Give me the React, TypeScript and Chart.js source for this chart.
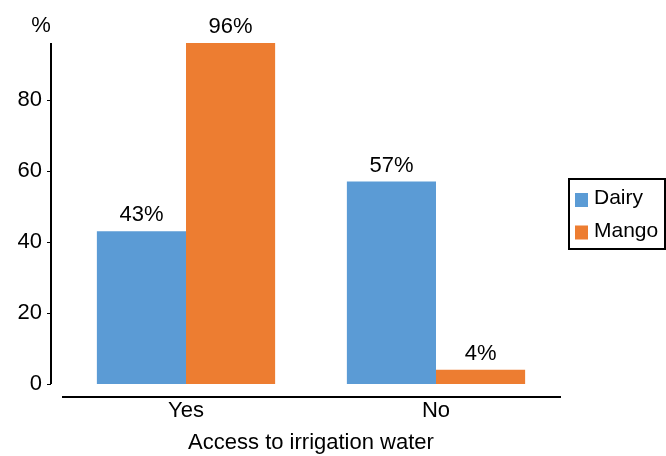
import React, { useEffect, useRef } from "react";
import { Chart, registerables } from "chart.js";

Chart.register(...registerables);

const categories = ["Yes", "No"];
const dairyValues = [43, 57];
const mangoValues = [96, 4];
const seriesNames = ["Dairy", "Mango"];
const yTicks = [0, 20, 40, 60, 80];

const FONT = "'Liberation Sans', Arial, Helvetica, sans-serif";
const FS = 22;
const LEGEND_FS = 21;
const BLUE = "#5B9BD5";
const ORANGE = "#ED7D31";

const overlay = {
  id: "overlay",
  afterDraw(chart: any) {
    const ctx = chart.ctx;
    const area = chart.chartArea;
    const y = chart.scales.y;
    ctx.save();
    ctx.strokeStyle = "#000";
    ctx.lineWidth = 2;
    const axX = area.left - 10;
    // y axis line
    ctx.beginPath();
    ctx.moveTo(axX, y.getPixelForValue(96));
    ctx.lineTo(axX, y.getPixelForValue(0));
    ctx.stroke();
    ctx.lineWidth = 1;
    yTicks.forEach((v) => {
      const py = Math.round(y.getPixelForValue(v)) + 0.5;
      ctx.beginPath();
      ctx.moveTo(axX - 4, py);
      ctx.lineTo(axX, py);
      ctx.stroke();
    });
    // x axis line
    ctx.lineWidth = 2;
    const xy = area.bottom + 13;
    ctx.beginPath();
    ctx.moveTo(area.left + 1, xy);
    ctx.lineTo(area.right, xy);
    ctx.stroke();
    // % label
    ctx.fillStyle = "#000";
    ctx.font = `${FS}px ${FONT}`;
    ctx.textAlign = "center";
    ctx.textBaseline = "alphabetic";
    ctx.fillText("%", 41, 32);
    // data labels
    chart.data.datasets.forEach((ds: any, di: number) => {
      const meta = chart.getDatasetMeta(di);
      meta.data.forEach((bar: any, i: number) => {
        ctx.fillText(ds.data[i] + "%", bar.x, bar.y - 10);
      });
    });
    // legend
    const lx = 569, ly = 179, lw = 96, lh = 70;
    ctx.lineWidth = 2;
    ctx.strokeRect(lx, ly, lw, lh);
    const colors = [BLUE, ORANGE];
    ctx.font = `${LEGEND_FS}px ${FONT}`;
    ctx.textAlign = "left";
    ctx.textBaseline = "alphabetic";
    seriesNames.forEach((name, i) => {
      const top = 193 + i * 32.5;
      ctx.fillStyle = colors[i];
      ctx.fillRect(575, top, 13, 14);
      ctx.fillStyle = "#000";
      ctx.fillText(name, 594, top + 11);
    });
    ctx.restore();
  },
};

export default function App() {
  const ref = useRef<HTMLCanvasElement>(null);
  useEffect(() => {
    if (!ref.current) return;
    const chart = new Chart(ref.current, {
      type: "bar",
      data: {
        labels: categories,
        datasets: [
          { label: seriesNames[0], data: dairyValues, backgroundColor: BLUE },
          { label: seriesNames[1], data: mangoValues, backgroundColor: ORANGE },
        ],
      },
      options: {
        responsive: false,
        animation: false,
        devicePixelRatio: 1,
        layout: { padding: { top: 43, right: 105, bottom: 0, left: 0 } },
        plugins: { legend: { display: false }, tooltip: { enabled: false } },
        datasets: { bar: { categoryPercentage: 0.713, barPercentage: 1 } },
        scales: {
          x: {
            grid: { display: false, drawTicks: false },
            border: { display: false },
            ticks: { color: "#000", font: { family: FONT, size: FS }, padding: 14 },
            title: {
              display: true,
              text: "Access to irrigation water",
              color: "#000",
              font: { family: FONT, size: FS },
              padding: { top: 0, bottom: 0 },
            },
            afterFit: (s: any) => { s.height = 72; },
          },
          y: {
            min: 0,
            max: 96,
            grid: { display: false, drawTicks: false },
            border: { display: false },
            ticks: {
              stepSize: 20,
              includeBounds: false,
              color: "#000",
              font: { family: FONT, size: FS },
              padding: 19,
            },
            afterFit: (s: any) => { s.width = 61; },
          },
        },
      },
      plugins: [overlay],
    });
    return () => chart.destroy();
  }, []);
  return (
    <div style={{ position: "absolute", left: 0, top: 0, width: 666, height: 456, background: "#fff" }}>
      <canvas ref={ref} width={666} height={456} />
    </div>
  );
}
